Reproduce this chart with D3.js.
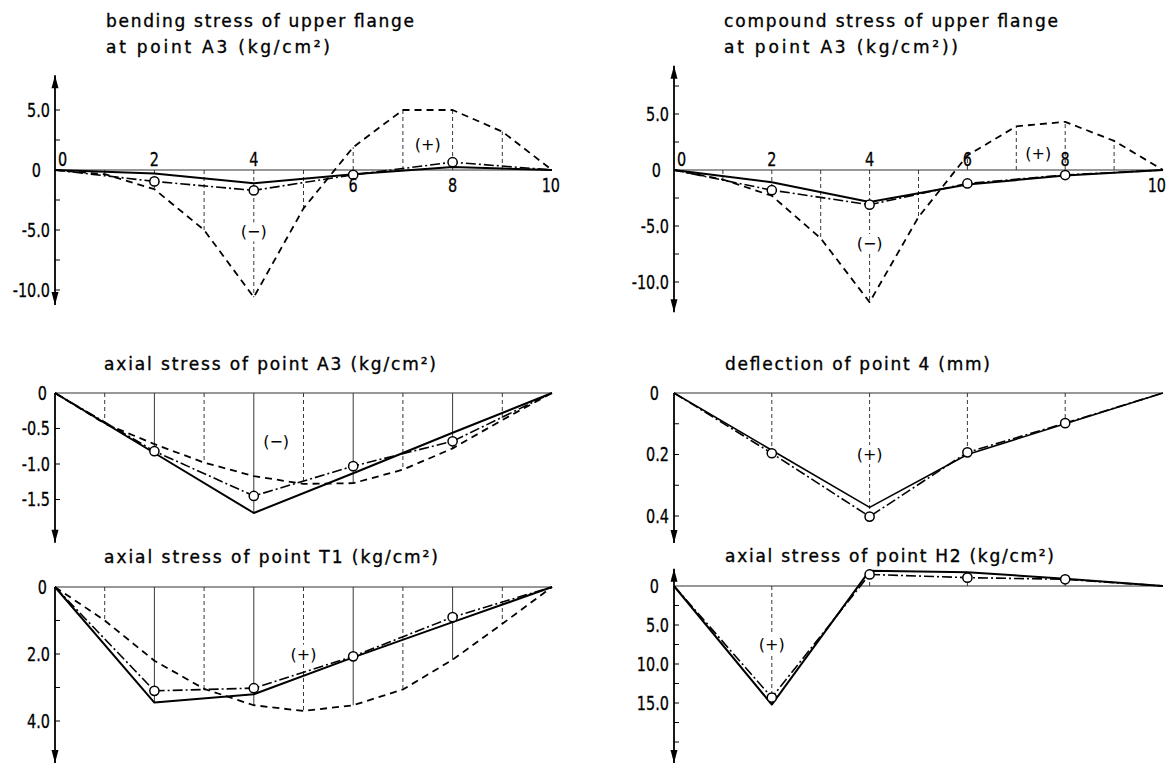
<!DOCTYPE html>
<html lang="en">
<head>
<meta charset="UTF-8">
<script src="https://d3js.org/d3.v7.min.js"></script>
<title>Stress and deflection diagrams</title>
<style>
  body { margin: 0; background: #fff; }
  svg { display: block; }
  .title { font-family: "DejaVu Sans", sans-serif; font-size: 17px; fill: #000; stroke: #000; stroke-width: 0.35px; }
  .tick { font-family: "DejaVu Sans", sans-serif; font-size: 19px; fill: #000; stroke: #000; stroke-width: 0.3px; }
  .sign { font-family: "DejaVu Sans", sans-serif; font-size: 16px; fill: #000; }
</style>
</head>
<body>
<svg id="chart" width="1167" height="766"></svg>
<script>
// stations along the span
const stationsAll = [0, 1, 2, 3, 4, 5, 6, 7, 8, 9, 10];
const stationsEven = [0, 2, 4, 6, 8, 10];
const spanLabels = ["0", "2", "4", "6", "8", "10"];

// titles
const titles = [
    ["bending stress of upper flange", "at point A3 (kg/cm²)"],
    ["compound stress of upper flange", "at point A3  (kg/cm²))"],
    ["axial stress of point A3  (kg/cm²)"],
    ["deflection of point 4 (mm)"],
    ["axial stress of point T1 (kg/cm²)"],
    ["axial stress of point H2 (kg/cm²)"]
];

// bending stress of upper flange at A3
const bendSolid = [0, -0.3, -1.1, -0.35, 0.25, 0];
const bendMeasured = [0, -0.95, -1.7, -0.4, 0.65, 0];
const bendDashed = [0, -0.35, -1.6, -5.0, -10.6, -3.2, 1.9, 5.0, 5.0, 3.2, 0];
const bendTicks = [5, 0, -5, -10];

// compound stress of upper flange at A3
const compSolid = [0, -1.1, -2.85, -1.3, -0.5, 0];
const compMeasured = [0, -1.8, -3.1, -1.2, -0.45, 0];
const compDashed = [0, -0.85, -2.3, -6.1, -11.8, -4.2, 1.3, 3.9, 4.3, 2.6, 0];
const compTicks = [5, 0, -5, -10];

// axial stress of point A3
const axA3Solid = [0, -0.845, -1.69, -1.13, -0.56, 0];
const axA3Measured = [0, -0.82, -1.45, -1.03, -0.68, 0];
const axA3Dashed = [0, -0.43, -0.72, -0.98, -1.17, -1.28, -1.27, -1.08, -0.78, -0.38, 0];
const axA3Ticks = [0, -0.5, -1.0, -1.5];

// deflection of point 4
const deflSolid = [0, 0.186, 0.372, 0.2, 0.1, 0];
const deflMeasured = [0, 0.196, 0.402, 0.193, 0.098, 0];
const deflTicks = [0, 0.2, 0.4];

// axial stress of point T1
const axT1Solid = [0, 3.45, 3.2, 2.1, 1.05, 0];
const axT1Measured = [0, 3.1, 3.02, 2.07, 0.9, 0];
const axT1Dashed = [0, 1.0, 2.2, 3.04, 3.53, 3.7, 3.53, 3.06, 2.17, 1.1, 0];
const axT1Ticks = [0, 2, 4];

// axial stress of point H2
const axH2Solid = [0, 15.2, -1.97, -1.76, -0.94, 0];
const axH2Measured = [0, 14.3, -1.48, -1.07, -0.86, 0];
const axH2Ticks = [0, 5, 10, 15];

// sign marks
const signs = [
    [{ t: "(+)", x: 7.5, y: 2.1 }, { t: "(−)", x: 4.0, y: -5.15 }],
    [{ t: "(+)", x: 7.45, y: 1.5 }, { t: "(−)", x: 4.0, y: -6.55 }],
    [{ t: "(−)", x: 4.45, y: -0.68 }],
    [{ t: "(+)", x: 4.0, y: 0.2 }],
    [{ t: "(+)", x: 5.0, y: 2.0 }],
    [{ t: "(+)", x: 2.0, y: 7.5 }]
];

const solidStyle = { w: 2, dash: null, markers: false };
const dashDotStyle = { w: 1.6, dash: "10,3,2,3", markers: true };
const dashedStyle = { w: 1.8, dash: "7,5", markers: false };

const panels = [
    { x0: 55, x1: 552, yDom: [0, 5], yRng: [170, 110], top: 7.9, bot: -11.25, arrowUp: true,
      ticks: bendTicks, minor: 2.5, zeroOff: 14, tx: 106, ty: [27, 53], tw: [308, 224],
      xLab: ["a", "a", "a", "b", "b", "b"], solidStems: false,
      series: [[stationsAll, bendDashed, dashedStyle], [stationsEven, bendSolid, solidStyle], [stationsEven, bendMeasured, dashDotStyle]] },
    { x0: 674, x1: 1163, yDom: [0, 5], yRng: [170, 114], top: 9.3, bot: -12.7, arrowUp: true,
      ticks: compTicks, minor: 2.5, zeroOff: 13, tx: 724, ty: [27, 53], tw: [334, 234],
      xLab: ["a", "a", "a", "a", "a", "b"], solidStems: false,
      series: [[stationsAll, compDashed, dashedStyle], [stationsEven, compSolid, solidStyle], [stationsEven, compMeasured, dashDotStyle]] },
    { x0: 55, x1: 552, yDom: [0, -0.5], yRng: [393, 428.5], top: 0, bot: -2.11, arrowUp: false,
      ticks: axA3Ticks, minor: 0.5, zeroOff: 8, tx: 104, ty: [370], tw: [332],
      xLab: null, solidStems: true,
      series: [[stationsAll, axA3Dashed, dashedStyle], [stationsEven, axA3Solid, solidStyle], [stationsEven, axA3Measured, dashDotStyle]] },
    { x0: 674, x1: 1163, yDom: [0, 0.2], yRng: [393, 454.5], top: 0, bot: 0.488, arrowUp: false,
      ticks: deflTicks, minor: 0.1, zeroOff: 15, tx: 725, ty: [370], tw: [265],
      xLab: null, solidStems: false,
      series: [[stationsEven, deflSolid, { w: 1.6, dash: null, markers: false }], [stationsEven, deflMeasured, dashDotStyle]] },
    { x0: 55, x1: 552, yDom: [0, 2], yRng: [587, 654], top: 0, bot: 5.25, arrowUp: false,
      ticks: axT1Ticks, minor: 1, zeroOff: 8, tx: 104, ty: [563], tw: [334],
      xLab: null, solidStems: true,
      series: [[stationsAll, axT1Dashed, dashedStyle], [stationsEven, axT1Solid, solidStyle], [stationsEven, axT1Measured, dashDotStyle]] },
    { x0: 674, x1: 1163, yDom: [0, 5], yRng: [586, 625], top: -2.2, bot: 22.7, arrowUp: true,
      ticks: axH2Ticks, minor: 2.5, zeroOff: 15, tx: 725, ty: [562], tw: [329],
      xLab: null, solidStems: false,
      series: [[stationsEven, axH2Solid, solidStyle], [stationsEven, axH2Measured, dashDotStyle]] }
];

const svg = d3.select("#chart");
const fmt = v => v === 0 ? "0" : (v < 0 ? "-" : "") + d3.format(".1f")(Math.abs(v));
const narrow = 0.76; // condensed look of the figure digits

const drawPanel = (p, idx) => {
    const g = svg.append("g");
    const x = d3.scaleLinear().domain([0, 10]).range([p.x0, p.x1]);
    const y = d3.scaleLinear().domain(p.yDom).range(p.yRng);

    // title lines
    titles[idx].forEach((t, i) => {
        g.append("text").attr("class", "title")
            .attr("x", p.tx).attr("y", p.ty[i])
            .attr("textLength", p.tw[i]).attr("lengthAdjust", "spacing")
            .text(t);
    });

    // vertical ordinates from the base line to the farthest curve
    const stems = d3.range(1, 10).map(i => {
        let ext = 0;
        p.series.forEach(([xs, ys]) => {
            const k = xs.indexOf(i);
            if (k >= 0 && Math.abs(ys[k]) > Math.abs(ext)) ext = ys[k];
        });
        return { i, ext };
    }).filter(d => d.ext !== 0);

    g.selectAll(".stem").data(stems).join("line")
        .attr("x1", d => x(d.i)).attr("x2", d => x(d.i))
        .attr("y1", y(0)).attr("y2", d => y(d.ext))
        .attr("stroke", "#222").attr("stroke-width", 0.9)
        .attr("stroke-dasharray", d => (d.i % 2 === 0 && p.solidStems) ? null : "4,3");

    // base line
    g.append("line")
        .attr("x1", x(0)).attr("x2", x(10)).attr("y1", y(0)).attr("y2", y(0))
        .attr("stroke", "#333").attr("stroke-width", 1.1);

    // sign marks, on a white patch so the ordinates break around them
    const signG = g.append("g");
    signs[idx].forEach(s => {
        const t = signG.append("text")
            .attr("class", "sign")
            .attr("x", x(s.x)).attr("y", y(s.y)).attr("dy", "0.35em")
            .attr("text-anchor", "middle")
            .text(s.t);
        const b = t.node().getBBox();
        signG.insert("rect", "text")
            .attr("x", b.x - 1).attr("y", b.y).attr("width", b.width + 2).attr("height", b.height)
            .attr("fill", "#fff");
    });

    // curves
    const line = d3.line().x(d => x(d[0])).y(d => y(d[1]));
    p.series.forEach(([xs, ys, st]) => {
        g.append("path").datum(d3.zip(xs, ys))
            .attr("d", line).attr("fill", "none")
            .attr("stroke", "#000").attr("stroke-width", st.w)
            .attr("stroke-dasharray", st.dash)
            .attr("stroke-linejoin", "round");
    });
    p.series.filter(s => s[2].markers).forEach(([xs, ys]) => {
        g.selectAll(null).data(d3.zip(xs, ys).filter(d => d[0] > 0 && d[0] < 10)).join("circle")
            .attr("cx", d => x(d[0])).attr("cy", d => y(d[1])).attr("r", 4.6)
            .attr("fill", "#fff").attr("stroke", "#000").attr("stroke-width", 1.5);
    });

    // vertical axis with arrows
    const yTopPx = y(p.top), yBotPx = y(p.bot);
    const ax = x(0);
    g.append("line")
        .attr("x1", ax).attr("x2", ax).attr("y1", yTopPx).attr("y2", yBotPx)
        .attr("stroke", "#000").attr("stroke-width", 1.8);
    const dir = yBotPx > y(0) ? 1 : -1;
    g.append("path")
        .attr("d", `M${ax},${yBotPx} L${ax - 3.5},${yBotPx - dir * 13} L${ax + 3.5},${yBotPx - dir * 13} Z`)
        .attr("fill", "#000");
    if (p.arrowUp) {
        g.append("path")
            .attr("d", `M${ax},${yTopPx} L${ax - 3.5},${yTopPx + dir * 13} L${ax + 3.5},${yTopPx + dir * 13} Z`)
            .attr("fill", "#000");
    }

    // ticks
    const lo = Math.min(p.top, p.bot), hi = Math.max(p.top, p.bot);
    const minorVals = d3.range(Math.ceil(lo / p.minor), Math.floor(hi / p.minor) + 1)
        .map(k => +(k * p.minor).toFixed(3))
        .filter(v => v !== 0 && Math.abs(y(v) - yBotPx) > 14 && (!p.arrowUp || Math.abs(y(v) - yTopPx) > 14));
    g.selectAll(null).data(minorVals).join("line")
        .attr("x1", ax).attr("x2", ax + 5).attr("y1", d => y(d)).attr("y2", d => y(d))
        .attr("stroke", "#000").attr("stroke-width", 1);

    g.selectAll(null).data(p.ticks).join("text")
        .attr("class", "tick")
        .attr("transform", d => `translate(${d === 0 ? ax - p.zeroOff : ax - 5},${y(d)}) scale(${narrow},1)`)
        .attr("dy", "0.36em")
        .attr("text-anchor", "end")
        .text(fmt);

    // span labels
    if (p.xLab) {
        g.selectAll(null).data(spanLabels.map((t, i) => ({ t, v: stationsEven[i], pos: p.xLab[i] }))).join("text")
            .attr("class", "tick")
            .attr("transform", d => {
                const tx = d.v === 0 ? ax + 3 : (d.v === 10 ? Math.min(x(d.v) + 8, 1166) : x(d.v));
                const ty = d.pos === "a" ? y(0) - 4 : y(0) + 22;
                return `translate(${tx},${ty}) scale(${narrow},1)`;
            })
            .attr("text-anchor", d => d.v === 0 ? "start" : (d.v === 10 ? "end" : "middle"))
            .text(d => d.t);
    }
};

panels.forEach(drawPanel);
</script>
</body>
</html>
